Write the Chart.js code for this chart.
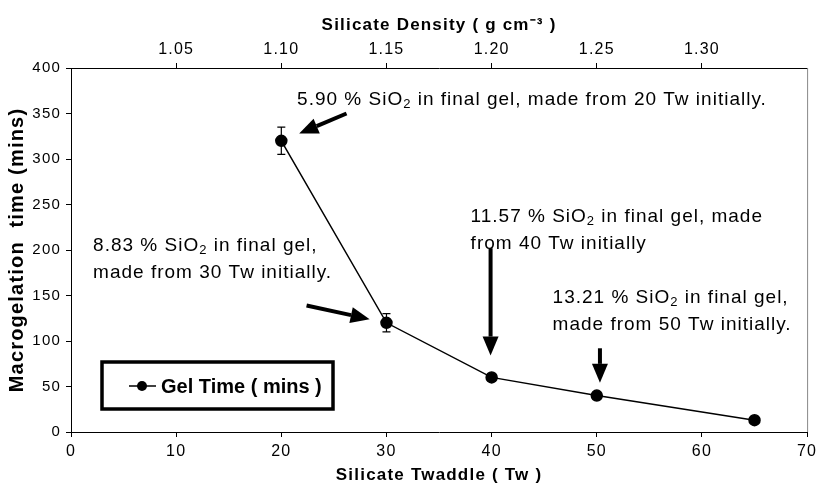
<!DOCTYPE html>
<html>
<head>
<meta charset="utf-8">
<script src="https://cdn.jsdelivr.net/npm/chart.js@4.4.1/dist/chart.umd.min.js"></script>
<style>
  html, body { margin: 0; padding: 0; background: #fff; }
  #wrap { width: 821px; height: 490px; }
</style>
</head>
<body>
<div id="wrap"><canvas id="gelChart" width="821" height="490"></canvas></div>
<script>
// Data
const twaddle = [20, 30, 40, 50, 65];
const gelTime = [320, 120, 60, 40, 13];
const gelErr = [15, 10, 3, 2, 0];

// Top axis: density labels placed at twaddle positions
const densityTicks = [10, 20, 30, 40, 50, 60];
const densityLabels = ['1.05', '1.10', '1.15', '1.20', '1.25', '1.30'];

// Annotation text (lines) and their arrows, in data units
const notes = [
    { x: 21.5, y: 365, lines: [['5.90 % SiO', '2', ' in final gel, made from 20 Tw initially.']] },
    { x: 2.1, y: 205, lines: [['8.83 % SiO', '2', ' in final gel,'], ['made from 30 Tw initially.']] },
    { x: 38.0, y: 237, lines: [['11.57 % SiO', '2', ' in final gel, made'], ['from 40 Tw initially']] },
    { x: 45.8, y: 148, lines: [['13.21 % SiO', '2', ' in final gel,'], ['made from 50 Tw initially.']] }
];
const arrows = [
    { from: [26.2, 350], to: [21.7, 328] },
    { from: [22.4, 139], to: [28.4, 124] },
    { from: [39.9, 202], to: [39.9, 84] },
    { from: [50.3, 92], to: [50.3, 54] }
];

const FONT = "'Liberation Sans', Arial, sans-serif";

function drawArrow(ctx, x1, y1, x2, y2) {
    const ang = Math.atan2(y2 - y1, x2 - x1);
    const headLen = 19, headW = 8;
    const bx = x2 - headLen * Math.cos(ang), by = y2 - headLen * Math.sin(ang);
    ctx.beginPath();
    ctx.moveTo(x1, y1);
    ctx.lineTo(bx, by);
    ctx.lineWidth = 4;
    ctx.strokeStyle = '#000';
    ctx.stroke();
    ctx.beginPath();
    ctx.moveTo(x2, y2);
    ctx.lineTo(bx + headW * Math.sin(ang), by - headW * Math.cos(ang));
    ctx.lineTo(bx - headW * Math.sin(ang), by + headW * Math.cos(ang));
    ctx.closePath();
    ctx.fillStyle = '#000';
    ctx.fill();
}

const extras = {
    id: 'extras',
    beforeDraw(chart) {
        // the original text is drawn with wide character spacing
        chart.ctx.letterSpacing = '1.2px';
    },
    beforeDatasetsDraw(chart) {
        const { ctx, scales } = chart;
        const xs = scales.x, ys = scales.y;
        // error bars
        ctx.save();
        ctx.strokeStyle = '#000';
        ctx.lineWidth = 1.2;
        twaddle.forEach((t, i) => {
            if (!gelErr[i]) return;
            const px = xs.getPixelForValue(t);
            const top = ys.getPixelForValue(gelTime[i] + gelErr[i]);
            const bot = ys.getPixelForValue(gelTime[i] - gelErr[i]);
            ctx.beginPath();
            ctx.moveTo(px, top); ctx.lineTo(px, bot);
            ctx.moveTo(px - 4, top); ctx.lineTo(px + 4, top);
            ctx.moveTo(px - 4, bot); ctx.lineTo(px + 4, bot);
            ctx.stroke();
        });
        ctx.restore();
    },
    afterDraw(chart) {
        const { ctx, scales, chartArea } = chart;
        const xs = scales.x, ys = scales.y;
        ctx.save();
        // right border
        ctx.strokeStyle = '#888';
        ctx.lineWidth = 1;
        ctx.beginPath();
        ctx.moveTo(chartArea.right + 0.5, chartArea.top);
        ctx.lineTo(chartArea.right + 0.5, chartArea.bottom);
        ctx.stroke();

        // annotation text
        ctx.fillStyle = '#000';
        ctx.textBaseline = 'middle';
        ctx.letterSpacing = '1px';
        notes.forEach(n => {
            let px = xs.getPixelForValue(n.x);
            let py = ys.getPixelForValue(n.y);
            n.lines.forEach((parts, li) => {
                let cx = px;
                const cy = py + li * 27;
                parts.forEach((p, k) => {
                    if (k === 1) {
                        ctx.font = '13px ' + FONT;
                        ctx.fillText(p, cx, cy + 5);
                    } else {
                        ctx.font = '19px ' + FONT;
                        ctx.fillText(p, cx, cy);
                    }
                    cx += ctx.measureText(p).width;
                });
            });
        });

        // arrows
        arrows.forEach(a => {
            drawArrow(ctx,
                xs.getPixelForValue(a.from[0]), ys.getPixelForValue(a.from[1]),
                xs.getPixelForValue(a.to[0]), ys.getPixelForValue(a.to[1]));
        });

        // legend box
        const lx = chartArea.left + 31, ly = chartArea.top + 294;
        ctx.lineWidth = 3.5;
        ctx.strokeStyle = '#000';
        ctx.strokeRect(lx, ly, 231, 47);
        ctx.lineWidth = 1.5;
        ctx.beginPath();
        ctx.moveTo(lx + 27, ly + 24); ctx.lineTo(lx + 54, ly + 24);
        ctx.stroke();
        ctx.beginPath();
        ctx.arc(lx + 40, ly + 24, 5, 0, Math.PI * 2);
        ctx.fill();
        ctx.letterSpacing = '0px';
        ctx.font = 'bold 20px ' + FONT;
        ctx.fillText('Gel Time ( mins )', lx + 59, ly + 25);
        ctx.restore();
    }
};

const ctx = document.getElementById('gelChart').getContext('2d');
new Chart(ctx, {
    type: 'scatter',
    data: {
        datasets: [{
            label: 'Gel Time ( mins )',
            data: twaddle.map((t, i) => ({ x: t, y: gelTime[i] })),
            showLine: true,
            borderColor: '#000',
            borderWidth: 1.5,
            backgroundColor: '#000',
            pointRadius: 5.5,
            pointHoverRadius: 5.5
        }]
    },
    options: {
        responsive: false,
        animation: false,
        layout: { padding: { left: 0, right: 13, top: 0, bottom: 0 } },
        plugins: {
            legend: { display: false },
            tooltip: { enabled: false }
        },
        scales: {
            x: {
                type: 'linear',
                position: 'bottom',
                min: 0, max: 70,
                ticks: { stepSize: 10, color: '#000', font: { size: 16, family: FONT }, padding: 5 },
                grid: { drawOnChartArea: false, drawTicks: true, tickLength: 5, color: '#000' },
                border: { display: true, color: '#000', width: 1 },
                title: { display: true, text: 'Silicate Twaddle ( Tw )', color: '#000', font: { size: 17, weight: 'bold', family: FONT }, padding: { top: 0 } },
                afterFit: s => { s.height = 58; }
            },
            x2: {
                type: 'linear',
                position: 'top',
                min: 0, max: 70,
                afterBuildTicks: axis => { axis.ticks = densityTicks.map(v => ({ value: v })); },
                ticks: {
                    color: '#000', font: { size: 16, family: FONT }, padding: 4,
                    callback: v => densityLabels[densityTicks.indexOf(v)] || ''
                },
                grid: { drawOnChartArea: false, drawTicks: true, tickLength: 5, color: '#000' },
                border: { display: true, color: '#000', width: 1 },
                title: { display: true, text: 'Silicate Density ( g cm\u207B\u00B3 )', color: '#000', font: { size: 17, weight: 'bold', family: FONT }, padding: { top: 15, bottom: 0 } },
                afterFit: s => { s.height = 68; }
            },
            y: {
                min: 0, max: 400,
                ticks: { stepSize: 50, color: '#000', font: { size: 15, family: FONT }, padding: 5 },
                grid: { drawOnChartArea: false, drawTicks: true, tickLength: 5, color: '#000' },
                border: { display: true, color: '#000', width: 1 },
                title: { display: true, text: 'Macrogelation  time (mins)', color: '#000', font: { size: 20, weight: 'bold', family: FONT }, padding: { top: 5, bottom: 0 } },
                afterFit: s => { s.width = 71; }
            }
        }
    },
    plugins: [extras]
});
</script>
</body>
</html>
